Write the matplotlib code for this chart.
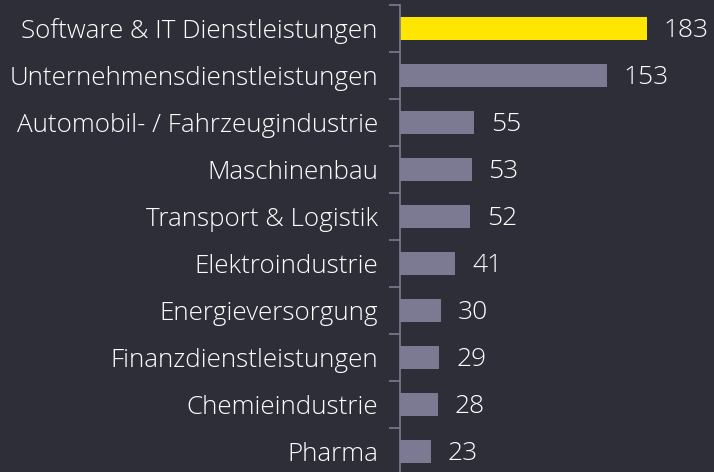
import matplotlib
matplotlib.use("Agg")
import matplotlib.pyplot as plt
import numpy as np

categories = ["Software & IT Dienstleistungen", "Unternehmensdienstleistungen",
              "Automobil- / Fahrzeugindustrie", "Maschinenbau", "Transport & Logistik",
              "Elektroindustrie", "Energieversorgung", "Finanzdienstleistungen",
              "Chemieindustrie", "Pharma"]
values = [183, 153, 55, 53, 52, 41, 30, 29, 28, 23]

bg = "#2e2e38"
grey = "#7c7a92"
yellow = "#ffe600"

plt.rcParams['font.family'] = ['Open Sans', 'DejaVu Sans']
plt.rcParams['font.weight'] = 'light'

fig = plt.figure(figsize=(7.14, 4.72), dpi=100, facecolor=bg)
ax = fig.add_axes([400/714, -3/472, 314/714, 470/472])
ax.set_facecolor(bg)

y = np.arange(len(categories))
colors = [yellow] + [grey] * (len(categories) - 1)
ax.barh(y, values, height=0.5, color=colors)
ax.set_ylim(len(categories) - 0.5, -0.5)
ax.set_xlim(0, 314/1.35)

for yi, v in zip(y, values):
    ax.text(v + 12.5, yi + 0.05, str(v), va='center', ha='left', color='white',
            fontsize=19, fontweight='light')

ax.set_yticks(y)
ax.set_yticklabels(categories, color='white', fontsize=18.7, fontweight='light')
ax.tick_params(axis='y', length=0, pad=16)
ax.set_yticks(np.arange(-0.5, len(categories), 1), minor=True)
ax.tick_params(axis='y', which='minor', length=8, color=grey, width=1.2)
ax.set_xticks([])
for s in ['top', 'right', 'bottom']:
    ax.spines[s].set_visible(False)
ax.spines['left'].set_color(grey)
ax.spines['left'].set_linewidth(1.2)

fig.savefig("out.png", dpi=100, facecolor=bg)
